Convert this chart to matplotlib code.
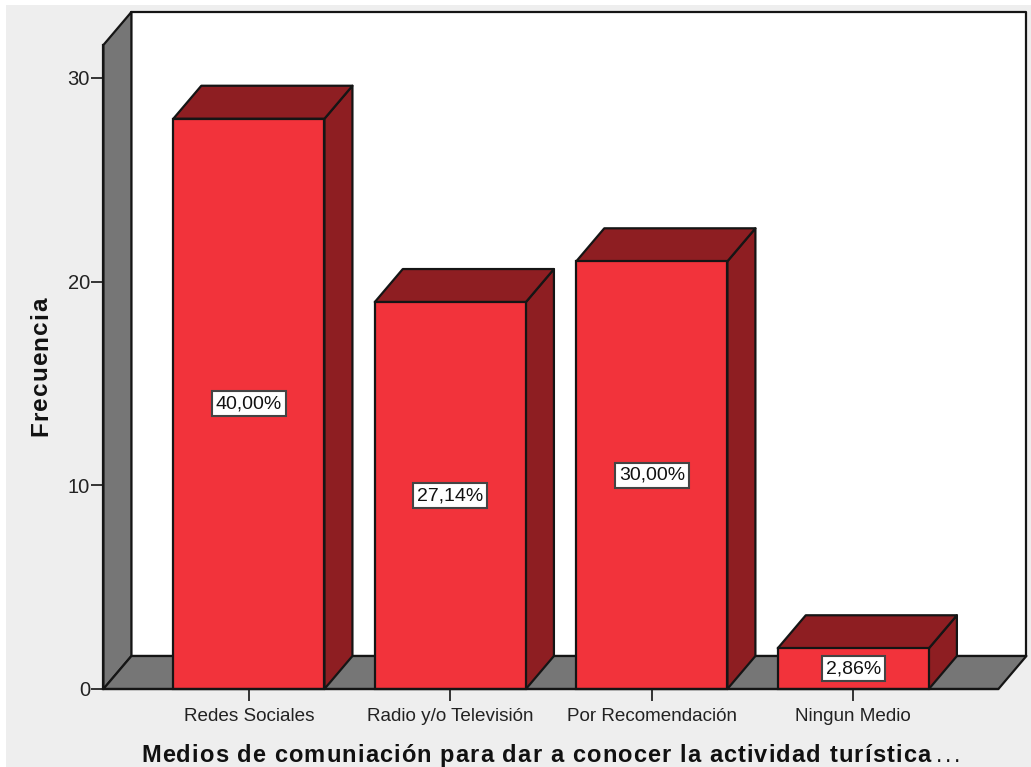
import matplotlib
matplotlib.use('Agg')
import matplotlib.pyplot as plt
from matplotlib.patches import Polygon, Rectangle

plt.rcParams['font.family'] = ['Liberation Sans', 'DejaVu Sans']

categorias = ['Redes Sociales', 'Radio y/o Televisión', 'Por Recomendación', 'Ningun Medio']
frecuencia = [28, 19, 21, 2]
porcentajes = ['40,00%', '27,14%', '30,00%', '2,86%']
yticks = [0, 10, 20, 30]

W, H = 1031, 767
rojo = '#F2333B'
oscuro = '#8E1E22'
gris = '#767676'
borde = '#151515'

fig = plt.figure(figsize=(W / 100, H / 100), dpi=100, facecolor='white')
fig.patches.append(Rectangle((6 / W, 0), 1, 1 - 5 / H, transform=fig.transFigure,
                             facecolor='#EEEEEE', edgecolor='none', zorder=-5))

# front plane of the 3D box, in pixels of the picture
ax = fig.add_axes([103.4 / W, 1 - 689 / H, (998 - 103) / W, (689 - 45) / H])
ax.patch.set_visible(False)
ax.set_xlim(-0.722, 3.72)
ax.set_ylim(0, 31.62)

# depth and bar width in data units
dx = 0.139
dy = 1.62
ancho = 0.75
x0, x1 = ax.get_xlim()
y1 = ax.get_ylim()[1]

def cara(puntos, color, z):
    ax.add_patch(Polygon(puntos, closed=True, facecolor=color, edgecolor=borde,
                         linewidth=1.6, joinstyle='round', clip_on=False, zorder=z))

# back wall, left wall, floor
cara([(x0 + dx, dy), (x1 + dx, dy), (x1 + dx, y1 + dy), (x0 + dx, y1 + dy)], 'white', 1)
cara([(x0, 0), (x0 + dx, dy), (x0 + dx, y1 + dy), (x0, y1)], gris, 1.1)
cara([(x0, 0), (x1, 0), (x1 + dx, dy), (x0 + dx, dy)], gris, 1.2)

for i, v in enumerate(frecuencia):
    a = i - ancho / 2
    b = i + ancho / 2
    cara([(b, 0), (b + dx, dy), (b + dx, v + dy), (b, v)], oscuro, 2)
    cara([(a, v), (b, v), (b + dx, v + dy), (a + dx, v + dy)], oscuro, 2)

ax.bar(range(len(frecuencia)), frecuencia, width=ancho, color=rojo,
       edgecolor=borde, linewidth=1.6, zorder=3, clip_on=False)

for i, v in enumerate(frecuencia):
    ax.text(i, v / 2, porcentajes[i], ha='center', va='center', fontsize=14, color='#111111',
            zorder=5, bbox=dict(boxstyle='square,pad=0.2', facecolor='white',
                                edgecolor='#444444', linewidth=1.5))

for s in ['top', 'right']:
    ax.spines[s].set_visible(False)
for s in ['left', 'bottom']:
    ax.spines[s].set_linewidth(1.6)
    ax.spines[s].set_color(borde)
    ax.spines[s].set_zorder(4)

ax.set_xticks(range(len(categorias)))
ax.set_xticklabels(categorias, fontsize=13.6, color='#222222')
ax.set_yticks(yticks)
ax.tick_params(axis='x', length=8.6, width=1.4, color='#333333', pad=5)
ax.tick_params(axis='y', length=8.6, width=1.4, color='#333333', pad=1, labelsize=14.5, labelcolor='#222222')

# axis titles are letter-spaced in the original, so place them char by char
rend = fig.canvas.get_renderer()

def ancho_txt(s, **kw):
    t = fig.text(0, 0, s, **kw)
    w = t.get_window_extent(rend).width
    t.remove()
    return w

def espaciado(s, x, y, gap, vertical=False, **kw):
    for i, c in enumerate(s):
        if c == ' ':
            continue
        d = ancho_txt(s[:i + 1], **kw) - ancho_txt(c, **kw) + i * gap
        if vertical:
            fig.text(x / W, 1 - (y - d) / H, c, rotation=90, rotation_mode='anchor',
                     ha='left', va='baseline', color='#111111', **kw)
        else:
            fig.text((x + d) / W, 1 - y / H, c, ha='left', va='baseline', color='#111111', **kw)

espaciado('Frecuencia', 47, 436, 1.05, vertical=True, fontsize=17.5, fontweight='bold')
espaciado('Medios de comuniación para dar a conocer la actividad turística', 141, 762, 1.1,
          fontsize=17, fontweight='bold')
espaciado('...', 936, 762, 2.5, fontsize=16.5)

fig.savefig('out.png', dpi=100, facecolor=fig.get_facecolor())
